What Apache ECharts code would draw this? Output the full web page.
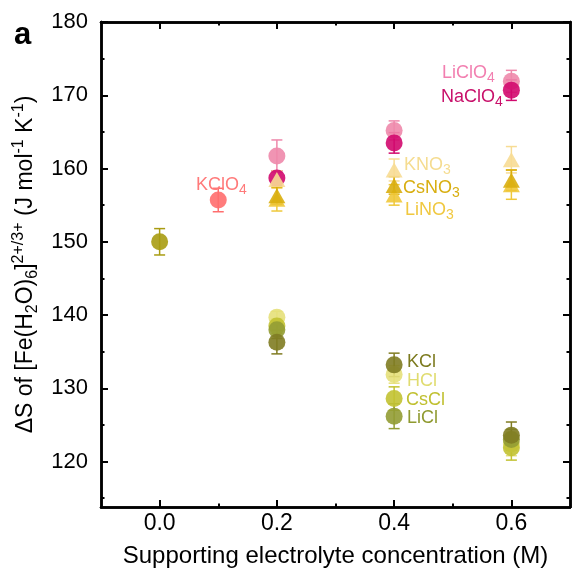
<!DOCTYPE html>
<html><head><meta charset="utf-8">
<script src="https://cdn.jsdelivr.net/npm/echarts@6/dist/echarts.min.js"></script>
<style>html,body{margin:0;padding:0;background:#fff}#c{width:574px;height:573px}</style>
</head><body><div id="c"></div>
<script>
// ---- data ----
const xMajorTicks = [0, 0.2, 0.4, 0.6];
const xMinorTicks = [0.1, 0.3, 0.5];
const yMajorTicks = [120, 130, 140, 150, 160, 170, 180];
const yMinorTicks = [115, 125, 135, 145, 155, 165, 175];

const none_x = [0.0];     const none_y = [150.0];               const none_e = [1.8];
const KClO4_x = [0.1];    const KClO4_y = [155.7];              const KClO4_e = [1.6];
const LiClO4_x = [0.2, 0.4, 0.6]; const LiClO4_y = [161.7, 165.2, 171.9]; const LiClO4_e = [2.2, 1.3, 1.5];
const NaClO4_x = [0.2, 0.4, 0.6]; const NaClO4_y = [158.7, 163.5, 170.7]; const NaClO4_e = [1.0, 1.4, 1.4];
const KNO3_x = [0.2, 0.4, 0.6];   const KNO3_y = [158.5, 159.8, 161.2];   const KNO3_e = [1.2, 1.5, 1.8];
const CsNO3_x = [0.2, 0.4, 0.6];  const CsNO3_y = [156.3, 157.7, 158.4];  const CsNO3_e = [1.2, 1.2, 1.4];
const LiNO3_x = [0.2, 0.4, 0.6];  const LiNO3_y = [155.8, 156.4, 157.8];  const LiNO3_e = [1.6, 1.4, 2.0];
const KCl_x = [0.2, 0.4, 0.6];    const KCl_y = [136.3, 133.2, 123.6];    const KCl_e = [1.6, 1.6, 1.8];
const HCl_x = [0.2, 0.4, 0.6];    const HCl_y = [139.7, 131.9, 122.4];    const HCl_e = [0.8, 1.2, 1.6];
const CsCl_x = [0.2, 0.4, 0.6];   const CsCl_y = [138.5, 128.6, 121.9];   const CsCl_e = [1.0, 1.6, 1.7];
const LiCl_x = [0.2, 0.4, 0.6];   const LiCl_y = [138.0, 126.2, 123.0];   const LiCl_e = [1.2, 1.7, 1.4];

const seriesDefs = [
  {name:'none',   x:none_x,   y:none_y,   e:none_e,   color:'#a99c12', sym:'circle'},
  {name:'KClO4',  x:KClO4_x,  y:KClO4_y,  e:KClO4_e,  color:'#ff6e6e', sym:'circle'},
  {name:'LiClO4', x:LiClO4_x, y:LiClO4_y, e:LiClO4_e, color:'#ee88ab', sym:'circle'},
  {name:'NaClO4', x:NaClO4_x, y:NaClO4_y, e:NaClO4_e, color:'#d1096e', sym:'circle'},
  {name:'KNO3',   x:KNO3_x,   y:KNO3_y,   e:KNO3_e,   color:'#f7dc94', sym:'triangle'},
  {name:'LiNO3',  x:LiNO3_x,  y:LiNO3_y,  e:LiNO3_e,  color:'#efc83a', sym:'triangle'},
  {name:'CsNO3',  x:CsNO3_x,  y:CsNO3_y,  e:CsNO3_e,  color:'#d9ae0e', sym:'triangle'},
  {name:'HCl',    x:HCl_x,    y:HCl_y,    e:HCl_e,    color:'#e6e07a', sym:'circle'},
  {name:'CsCl',   x:CsCl_x,   y:CsCl_y,   e:CsCl_e,   color:'#c2c232', sym:'circle'},
  {name:'LiCl',   x:LiCl_x,   y:LiCl_y,   e:LiCl_e,   color:'#929c34', sym:'circle'},
  {name:'KCl',    x:KCl_x,    y:KCl_y,    e:KCl_e,    color:'#807c22', sym:'circle'}
];

const FONT = 'Liberation Sans, Arial, sans-serif';
const chart = echarts.init(document.getElementById('c'), null, {renderer:'canvas'});

const series = [];
seriesDefs.forEach(d => {
  const errData = d.x.map((xv, i) => [xv, d.y[i] - d.e[i], d.y[i] + d.e[i]]);
  series.push({
    type:'custom', name:d.name+'_err', xAxisIndex:0, yAxisIndex:0, z:2,
    data: errData,
    renderItem: (params, api) => {
      const x = api.value(0);
      const lo = api.coord([x, api.value(1)]);
      const hi = api.coord([x, api.value(2)]);
      const cw = 5.5;
      const st = {stroke:d.color, lineWidth:1.5};
      return {type:'group', children:[
        {type:'line', shape:{x1:lo[0], y1:lo[1], x2:hi[0], y2:hi[1]}, style:st},
        {type:'line', shape:{x1:lo[0]-cw, y1:lo[1], x2:lo[0]+cw, y2:lo[1]}, style:st},
        {type:'line', shape:{x1:hi[0]-cw, y1:hi[1], x2:hi[0]+cw, y2:hi[1]}, style:st}
      ]};
    }
  });
  series.push({
    type:'scatter', name:d.name, xAxisIndex:0, yAxisIndex:0, z:3,
    symbol:d.sym, symbolSize: d.sym === 'triangle' ? [17, 15] : 17,
    itemStyle:{color:d.color, opacity:0.9},
    data: d.x.map((xv, i) => [xv, d.y[i]])
  });
});

const axisLineStyle = {show:true, onZero:false, lineStyle:{color:'#000', width:2.5}};
function xAx(pos, ticks, len, showLabel, extra){
  return Object.assign({
    type:'value', position:pos, min:-0.1, max:0.7,
    axisLine: axisLineStyle,
    axisTick:{show:true, inside:true, length:len, customValues:ticks, lineStyle:{color:'#000', width:2}},
    axisLabel:{show:showLabel, customValues:ticks, formatter:v=>v.toFixed(1), fontSize:23, color:'#000', fontFamily:FONT, margin:5},
    splitLine:{show:false}
  }, extra||{});
}
function yAx(pos, ticks, len, showLabel, extra){
  return Object.assign({
    type:'value', position:pos, min:113.8, max:180,
    axisLine: axisLineStyle,
    axisTick:{show:true, inside:true, length:len, customValues:ticks, lineStyle:{color:'#000', width:2}},
    axisLabel:{show:showLabel, customValues:ticks, formatter:v=>String(v), fontSize:22, color:'#000', fontFamily:FONT, margin:13},
    splitLine:{show:false}
  }, extra||{});
}

const option = {
  animation:false,
  backgroundColor:'#fff',
  grid:{left:101, right:4, top:22, bottom:65, containLabel:false},
  xAxis:[
    xAx('bottom', xMajorTicks, 7, true, {
      name:'Supporting electrolyte concentration (M)', nameLocation:'middle', nameGap:37,
      nameTextStyle:{fontSize:24, color:'#000', fontFamily:FONT}
    }),
    xAx('bottom', xMinorTicks, 3.5, false),
    xAx('top', xMajorTicks, 7, false),
    xAx('top', xMinorTicks, 3.5, false)
  ],
  yAxis:[
    yAx('left', yMajorTicks, 7, true, {
      name:'ΔS of [Fe(H{sub|2}O){sub|6}]{sup|2+/3+} (J mol{sup|-1} K{sup|-1})',
      nameLocation:'middle', nameGap:58, nameRotate:90,
      nameTextStyle:{fontSize:23, color:'#000', fontFamily:FONT, lineHeight:30,
        rich:{
          sub:{fontSize:16, fontFamily:FONT, color:'#000', verticalAlign:'bottom', lineHeight:26},
          sup:{fontSize:16, fontFamily:FONT, color:'#000', verticalAlign:'top', lineHeight:26}
        }}
    }),
    yAx('left', yMinorTicks, 3.5, false),
    yAx('right', yMajorTicks, 7, false),
    yAx('right', yMinorTicks, 3.5, false)
  ],
  series: series
};
chart.setOption(option);

// in-plot text labels
function lab(txt, x, y, color){
  return {type:'text', x:x, y:y, z:10, style:{
    text:txt, fill:color, font:'18px '+FONT, verticalAlign:'middle',
    rich:{s:{fontSize:14, fill:color, fontFamily:FONT, padding:[11,0,0,0]}, n:{fontSize:18, fill:color, fontFamily:FONT}}
  }};
}
chart.setOption({graphic:[
  {type:'text', x:14, y:20, z:10, style:{text:'a', font:'bold 31px '+FONT, fill:'#000'}},
  lab('{n|LiClO}{s|4}', 442, 73, '#f27fb0'),
  lab('{n|NaClO}{s|4}', 441, 97, '#c8106a'),
  lab('{n|KClO}{s|4}', 196, 185, '#ff7a7a'),
  lab('{n|KNO}{s|3}', 404, 165, '#f5dc90'),
  lab('{n|CsNO}{s|3}', 403, 188, '#d8ae10'),
  lab('{n|LiNO}{s|3}', 405, 210, '#f0c840'),
  lab('{n|KCl}', 407, 362, '#7c7a1e'),
  lab('{n|HCl}', 407, 381, '#e0dc70'),
  lab('{n|CsCl}', 406, 400, '#c0c030'),
  lab('{n|LiCl}', 407, 418, '#8f9a30')
]});
</script>
</body></html>
